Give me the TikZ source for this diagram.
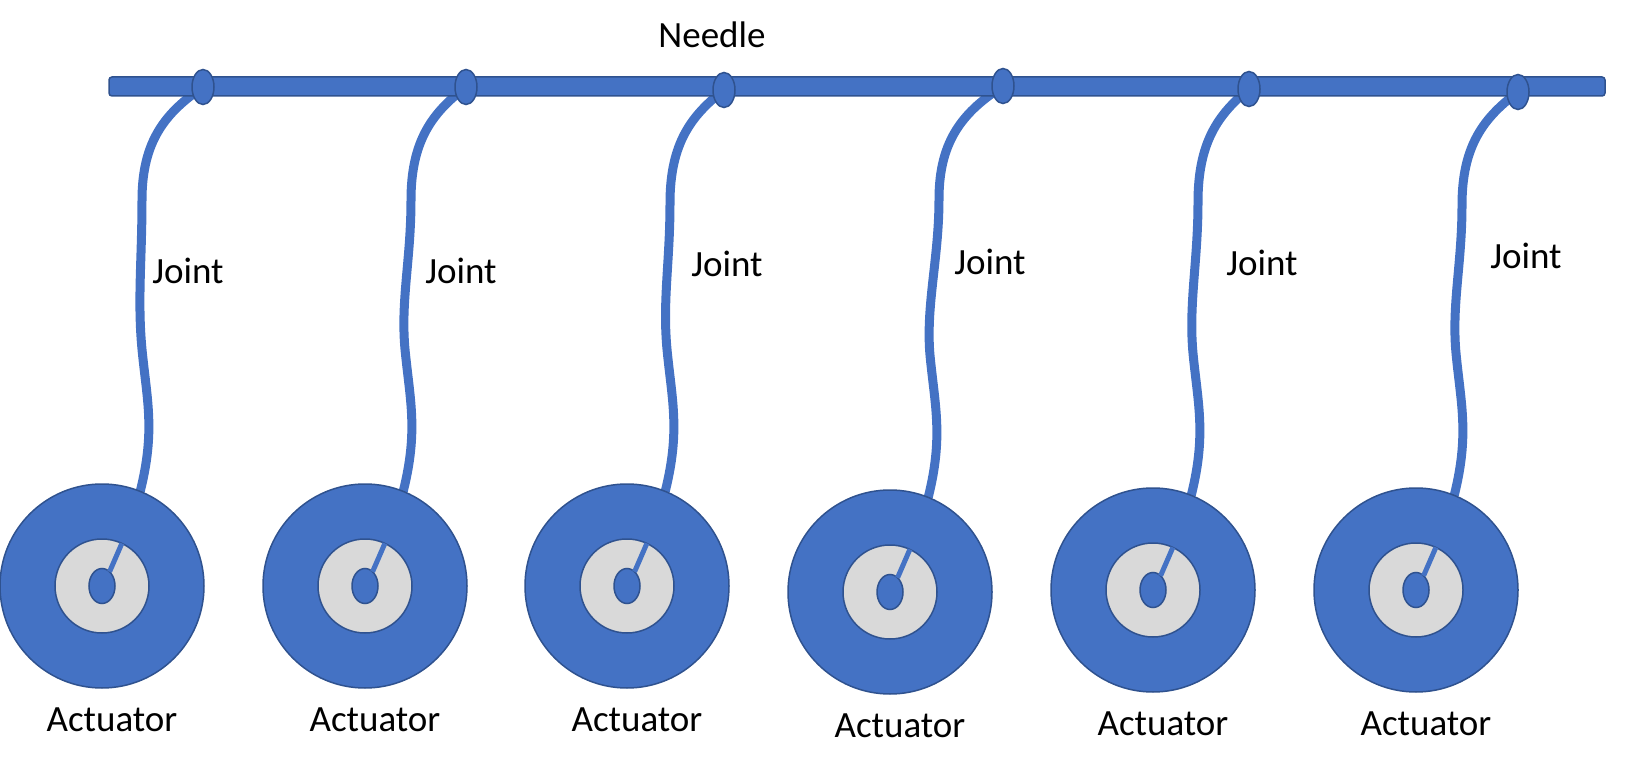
\documentclass[tikz,border=0pt]{standalone}
\usepackage{fontspec}
\setmainfont{Carlito}
\usetikzlibrary{shapes.geometric,backgrounds}
\definecolor{office}{HTML}{4472C4}
\definecolor{officeline}{HTML}{2F528F}
\definecolor{hubgrey}{HTML}{D9D9D9}

\begin{document}
\begin{tikzpicture}[x=0.5pt,y=-0.5pt,
   lbl/.style={font=\fontsize{18.5}{22}\selectfont,inner sep=0pt,anchor=base},
   rod/.style={draw=officeline,fill=office,line width=0.75pt,rounded corners=1.5pt,
               minimum width=748pt,minimum height=9.5pt,inner sep=0pt,outer sep=0pt},
   pin/.style={ellipse,draw=officeline,fill=office,line width=0.75pt,
               minimum width=11pt,minimum height=17.5pt,inner sep=0pt},
   wheel/.style={circle,draw=officeline,fill=office,line width=0.75pt,
               minimum size=102pt,inner sep=0pt,outer sep=0pt},
   hubc/.style={circle,draw=officeline,fill=hubgrey,line width=0.75pt,
               minimum size=47pt,inner sep=0pt,outer sep=0pt},
   axle/.style={ellipse,draw=officeline,fill=office,line width=0.75pt,
               minimum width=13pt,minimum height=17.5pt,inner sep=0pt,outer sep=0pt},
   wire/.style={office,line width=4.5pt},
   spoke/.style={office,line width=2.5pt}]
   \useasboundingbox (0,0) rectangle (1627,770);
   % needle bar
   \node[rod] (needle) at (857,86.5) {};
   \node[lbl] (needlelbl) at (712,48) {Needle};
   % joints and actuators
   \foreach \jx/\jy/\ax/\ay/\mx/\lx/\ly [count=\i] in
      {203/87/102/586/-61/188/284, 466/87/365/586/-55/461/284,
       724/90/627/586/-54/727/277, 1003/86/890/592/-64/990/275,
       1249/89/1153/590/-51/1262/276, 1518/92/1416/590/-56/1526/269}{
      \node[pin] (j\i) at (\jx,\jy) {};
      \node[wheel] (a\i) at (\ax,\ay) {};
      \node[hubc] (h\i) at (a\i.center) {};
      \node[axle] (x\i) at (a\i.center) {};
      \draw[spoke] (x\i.62) -- (h\i.65);
      \node[lbl] (l\i) at (\lx,\ly) {Joint};
      \node[lbl] (t\i) at ([shift={(10,145)}]a\i.center) {Actuator};
      \begin{pgfonlayer}{background}
         \draw[wire] (j\i.center) .. controls +({0.6*(\mx)},25) and +(0,-60)
            .. ([shift={(\mx,113)}]j\i.center)
            .. controls +(0,60) and +(-5,-50) .. ([shift={(2,-140)}]a\i.68)
            .. controls +(5,50) and +(15,-60) .. (a\i.68);
      \end{pgfonlayer}
   }
\end{tikzpicture}
\end{document}
